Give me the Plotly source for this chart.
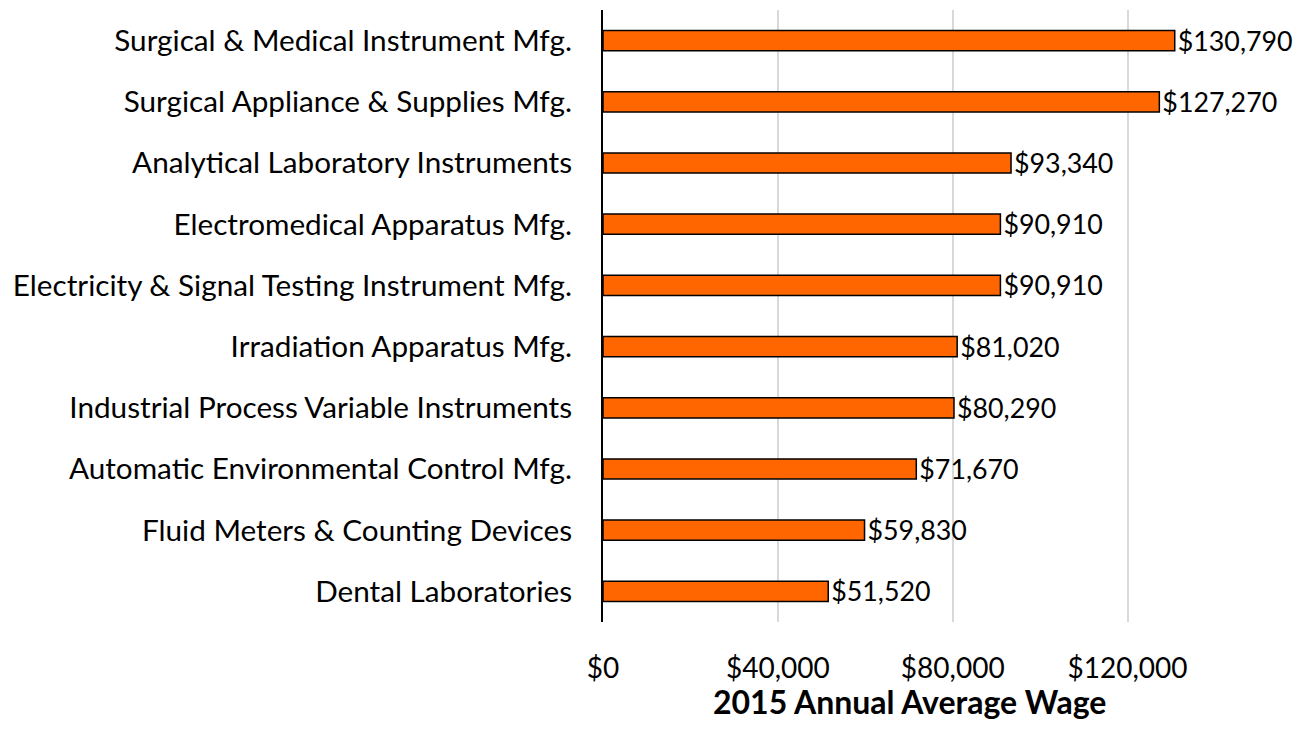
import plotly.graph_objects as go

# 2015 annual average wage by industry (top to bottom as shown)
industries = [
    "Surgical & Medical Instrument Mfg.",
    "Surgical Appliance & Supplies Mfg.",
    "Analytical Laboratory Instruments",
    "Electromedical Apparatus Mfg.",
    "Electricity & Signal Testing Instrument Mfg.",
    "Irradiation Apparatus Mfg.",
    "Industrial Process Variable Instruments",
    "Automatic Environmental Control Mfg.",
    "Fluid Meters & Counting Devices",
    "Dental Laboratories",
]
wages = [130790, 127270, 93340, 90910, 90910, 81020, 80290, 71670, 59830, 51520]
tick_vals = [0, 40000, 80000, 120000]
tick_text = ["$0", "$40,000", "$80,000", "$120,000"]

labels = ["${:,}".format(w) for w in wages]

FONT = "Lato"
FS = 28

fig = go.Figure(go.Bar(
    x=wages, y=industries, orientation="h",
    marker=dict(color="#ff6600", line=dict(color="black", width=1.5)),
    text=labels, textposition="outside", cliponaxis=False,
    constraintext="none",
    textfont=dict(family=FONT, size=26.8, color="black"),
))

# page body has an 8px margin, so the figure is sized/shifted to fit the window
fig.update_layout(
    width=1293, height=717,
    margin=dict(l=595, r=86, t=2, b=103),
    plot_bgcolor="white", paper_bgcolor="white",
    bargap=0.67, showlegend=False,
    font=dict(family=FONT, size=FS, color="black"),
)
fig.update_xaxes(
    range=[0, 140000], tickvals=tick_vals, ticktext=tick_text,
    showgrid=True, gridcolor="#d9d9d9", gridwidth=1.5,
    zeroline=False, showline=False, ticks="", ticklabelstandoff=27,
    tickfont=dict(family=FONT, size=FS), automargin=False,
)
fig.update_yaxes(
    autorange="reversed", showgrid=False, zeroline=False,
    showline=True, linecolor="black", linewidth=2,
    ticks="", ticklabelstandoff=23, automargin=False,
    tickfont=dict(family=FONT, size=29.7),
)

# axis title as an annotation, anchored by its bottom so it stays inside the figure
fig.add_annotation(
    text="<b>2015 Annual Average Wage</b>", xref="paper", yref="paper",
    x=0.5, y=-0.165, xanchor="center", yanchor="bottom", showarrow=False,
    font=dict(family=FONT, size=32, color="black"),
)

fig.write_html("out.html")
